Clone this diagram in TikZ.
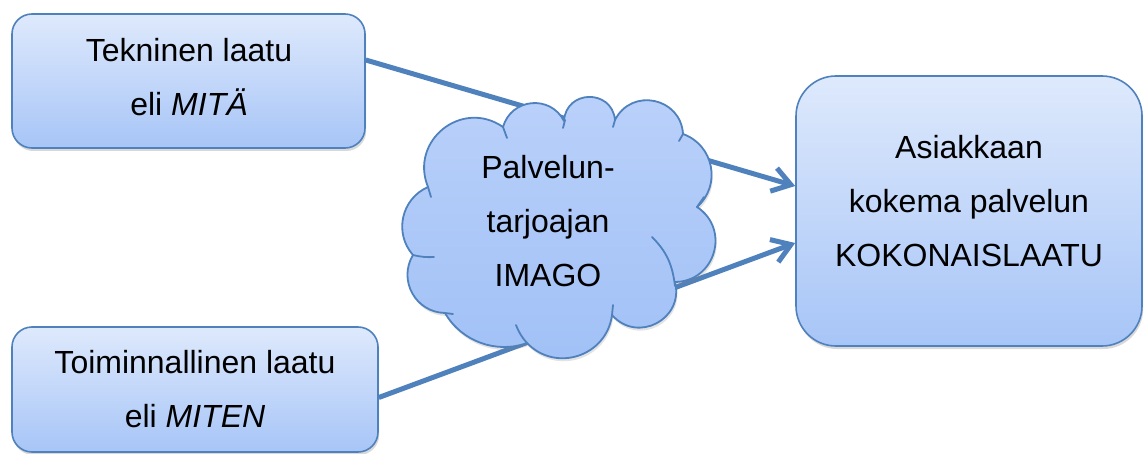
\documentclass[tikz,border=0pt]{standalone}
\usepackage{fontspec}
\setmainfont{Liberation Sans}
\usetikzlibrary{arrows.meta,shadows}
\definecolor{bord}{RGB}{79,129,189}
\definecolor{topc}{RGB}{222,233,252}
\definecolor{botc}{RGB}{167,197,247}
\definecolor{cltop}{RGB}{186,209,250}
\definecolor{clbot}{RGB}{160,192,246}
\pgfdeclarelayer{bg}
\pgfsetlayers{bg,main}
\begin{document}
\begin{tikzpicture}[x=0.5pt,y=0.5pt,
  box/.style={draw=bord,line width=0.8pt,top color=topc,bottom color=botc,
    rounded corners=10pt,inner sep=0pt,
    drop shadow={opacity=0.3,shadow xshift=0.6pt,shadow yshift=-1.5pt}},
  txt/.style={font=\fontsize{16}{27}\selectfont,align=center,inner sep=0pt},
  conn/.style={draw=bord,line width=2.5pt,-{Straight Barb[length=9pt,width=12pt]}},
  cloudfill/.style={top color=cltop,bottom color=clbot,
    drop shadow={opacity=0.22,shadow xshift=0.6pt,shadow yshift=-1.5pt}},
  cloudline/.style={draw=bord,line width=0.9pt,line join=round},
  stub/.style={draw=bord,line width=0.9pt,line cap=round}]
\useasboundingbox (0,0) rectangle (1144,-454);
% boxes
\node[box,minimum width=176.5pt,minimum height=67pt] (tek) at (188.5,-81) {};
\node[txt] (tekt) at (189,-77) {Tekninen laatu\\eli \textit{MITÄ}};
\node[box,minimum width=183pt,minimum height=62.5pt] (toi) at (195,-389.5) {};
\node[txt] (toit) at (195,-389) {Toiminnallinen laatu\\eli \textit{MITEN}};
\node[box,rounded corners=20pt,minimum width=173pt,minimum height=135pt] (kok) at (969,-211) {};
\node[txt] (kokt) at (969,-201.5) {Asiakkaan\\kokema palvelun\\KOKONAISLAATU};
% cloud
\def\cloudpath{(413,-255) to[bend left=54,looseness=1.07] (428,-187)
  to[bend left=73.5,looseness=1.33] (503,-127)
  to[bend left=68.5,looseness=1.25] (564,-121)
  to[bend left=85.5,looseness=1.58] (615,-120)
  to[bend left=75,looseness=1.35] (683,-134)
  to[bend left=59.5,looseness=1.13] (697,-207)
  to[bend left=73,looseness=1.32] (675,-282)
  to[bend left=76.5,looseness=1.38] (612,-315)
  to[bend left=64.5,looseness=1.19] (527,-343)
  to[bend left=40,looseness=0.96] (445,-313)
  to[bend left=60,looseness=1.14] (413,-255) -- cycle}
\path[cloudfill] \cloudpath;
\draw[cloudline] \cloudpath;
\draw[stub] (413,-255) to[bend right=8] (434,-257);
\draw[stub] (428,-187) -- (431,-197);
\draw[stub] (503,-127) -- (507,-138);
\draw[stub] (565,-120) -- (563,-128);
\draw[stub] (615,-120) -- (613,-127);
\draw[stub] (683,-134) -- (679,-141);
\draw[stub] (697,-207) -- (704,-197);
\draw[stub] (652,-237) to[out=-45,in=97] (675,-286);
\draw[stub] (612,-315) -- (613,-305);
\draw[stub] (527,-343) to[bend left=10] (516,-325);
\draw[stub] (445,-313) -- (453,-314);
\node[txt] (imgt) at (548,-221) {Palvelun-\\tarjoajan\\IMAGO};
% connectors
\begin{pgfonlayer}{bg}
\draw[conn] ([yshift=10.5pt]tek.east) -- ([yshift=12.5pt]kok.west);
\draw[conn] ([yshift=-4pt]toi.east) -- ([yshift=-16pt]kok.west);
\end{pgfonlayer}
\end{tikzpicture}
\end{document}
